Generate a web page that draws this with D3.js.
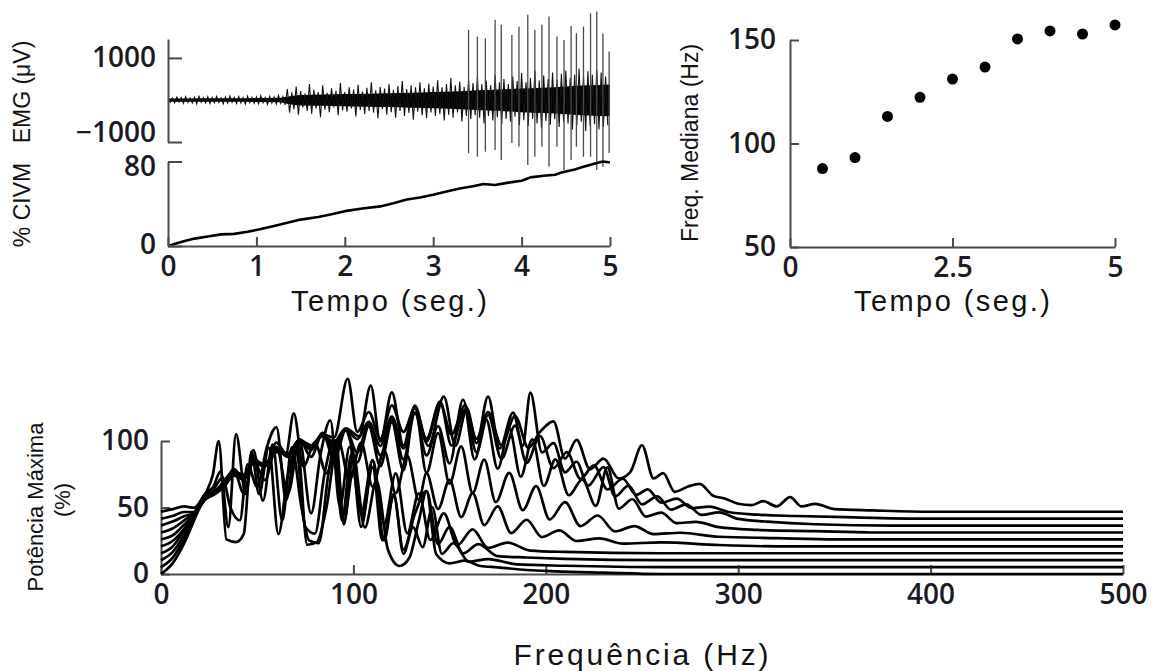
<!DOCTYPE html>
<html>
<head>
<meta charset="utf-8">
<script src="https://cdn.jsdelivr.net/npm/d3@7"></script>
<style>
  html, body { margin: 0; padding: 0; background: #fff; }
  svg { display: block; }
  .tick text { font-family: "Open Sans", sans-serif; font-weight: 600; fill: #1a1a24; }
  .title { font-family: "Liberation Sans", Arial, sans-serif; fill: #111; }
</style>
</head>
<body>
<div id="chart"></div>
<script>
// =====================================
// DATA
// =====================================

// EMG envelope per 0.05 s bin (µV): upper and lower extent
const emgMax = [
  60, 45, 70, 55, 80, 50, 65, 90, 55, 75,
  60, 85, 50, 70, 95, 60, 80, 55, 90, 65,
  75, 100, 60, 85, 70, 110, 80, 260, 180, 320,
  210, 150, 380, 240, 190, 350, 170, 280, 220, 400,
  190, 300, 250, 360, 200, 290, 420, 230, 310, 270,
  380, 240, 330, 450, 260, 350, 300, 420, 280, 390,
  320, 470, 300, 380, 520, 350, 430, 310, 480, 400,
  550, 380, 460, 350, 600, 420, 500, 380, 560, 450,
  640, 420, 520, 700, 460, 580, 500, 650, 480, 620,
  700, 520, 600, 750, 550, 680, 600, 720, 650, 560
];
const emgMin = [
  -55, -70, -50, -80, -60, -75, -95, -55, -70, -85,
  -65, -60, -90, -75, -55, -85, -70, -100, -65, -80,
  -90, -70, -105, -75, -95, -80, -120, -300, -220, -350,
  -180, -260, -330, -200, -410, -230, -290, -180, -360, -250,
  -280, -200, -390, -240, -330, -260, -300, -440, -220, -350,
  -290, -420, -260, -380, -310, -470, -280, -360, -430, -300,
  -380, -330, -490, -350, -420, -300, -510, -380, -450, -360,
  -420, -560, -380, -490, -410, -580, -450, -520, -400, -600,
  -480, -620, -450, -560, -680, -500, -590, -460, -640, -520,
  -560, -700, -600, -520, -740, -620, -580, -700, -640, -600
];

// dense core of the EMG band (µV)
const emgCoreTime = [0, 0.25, 0.5, 0.75, 1.0, 1.25, 1.38, 1.5, 1.75, 2.0, 2.25, 2.5, 2.75,
                     3.0, 3.25, 3.5, 3.75, 4.0, 4.25, 4.5, 4.75, 5.0];
const emgCoreHi = [35, 35, 40, 40, 45, 50, 90, 120, 130, 140, 150, 160, 170,
                   190, 200, 230, 250, 270, 290, 320, 350, 370];
const emgCoreLo = [-40, -40, -45, -45, -50, -55, -100, -130, -140, -150, -160, -170, -185,
                   -200, -215, -240, -260, -290, -310, -340, -370, -390];

// large EMG spikes: time (s), top (µV), bottom (µV)
const spikeTime = [3.40, 3.50, 3.59, 3.70, 3.77, 3.89, 3.97, 4.07, 4.15, 4.23,
                   4.31, 4.40, 4.48, 4.56, 4.62, 4.70, 4.78, 4.85, 4.92, 4.99];
const spikeTop = [1667, 1507, 1468, 1905, 1786, 1548, 1746, 2024, 1667, 1786,
                  1984, 1507, 1429, 1762, 1587, 1746, 2064, 2103, 1587, 1150];
const spikeBottom = [-1262, -1350, -1230, -1190, -1430, -1024, -1111, -1548, -1350, -1111,
                     -1587, -1111, -1667, -1430, -1111, -1350, -1350, -1667, -1587, -1262];

// force (% CIVM)
const civmTime = [0, 0.1, 0.2, 0.3, 0.45, 0.6, 0.75, 0.9, 1.05, 1.2, 1.35, 1.5, 1.7, 1.85,
                  2.0, 2.2, 2.4, 2.55, 2.7, 2.85, 3.0, 3.15, 3.3, 3.45, 3.57, 3.7, 3.85,
                  4.0, 4.1, 4.25, 4.38, 4.45, 4.6, 4.7, 4.8, 4.92, 5.0];
const civmValue = [0, 2.5, 5, 7, 9, 11, 11.5, 13.5, 16, 19, 22, 25, 27.5, 30,
                   33, 35.5, 37.5, 40.5, 44, 46, 48.5, 51.5, 54.5, 56.5, 58.7, 57.8, 60,
                   61.8, 65, 66.5, 67.5, 69.5, 72.5, 75, 77.5, 80, 79];

// median frequency
const medTime = [0.5, 1.0, 1.5, 2.0, 2.5, 3.0, 3.5, 4.0, 4.5, 5.0];
const medFreq = [87.9, 93.2, 113.1, 122.3, 131.1, 136.9, 150.5, 154.4, 152.9, 157.3];

// power spectra (relative %), one per 0.5 s window, stacked with offsets
const spectrumOffsets = [0, 5.2, 10.4, 15.6, 20.8, 26, 31.2, 36.4, 41.6, 46.8];
const spectra = [
  [[0,0],[6,8],[12,23],[18,43],[23,60],[27,75],[30,100],[34,26],[39,24],[43,30],[47,92],[51,60],[56,95],[61,30],[66,75],[71,95],[76,22],[81,24],[86,50],[91,92],[95,40],[100,78],[106,35],[112,70],[118,18],[124,6],[129,12],[134,40],[138,62],[143,15],[150,8],[158,10],[166,6],[175,5],[190,3],[205,2],[230,1],[260,0],[500,0]],
  [[0,0],[6,7],[12,21],[18,40],[23,55],[27,60],[31,72],[35,30],[39,100],[44,55],[48,88],[53,50],[58,92],[63,35],[68,90],[73,45],[77,20],[82,18],[87,70],[91,95],[95,32],[100,85],[105,40],[110,80],[116,20],[121,55],[126,10],[131,30],[136,15],[141,45],[146,10],[152,18],[160,4],[170,6],[185,2],[210,1],[260,0],[500,0]],
  [[0,0],[6,6],[12,19],[18,37],[23,50],[28,55],[32,62],[36,40],[41,30],[45,72],[50,55],[55,85],[60,100],[65,45],[70,85],[75,25],[80,20],[85,65],[90,90],[94,30],[99,80],[104,25],[110,70],[115,15],[121,48],[126,8],[132,35],[138,52],[144,12],[150,25],[157,5],[165,12],[175,3],[190,2],[210,1],[260,0],[500,0]],
  [[0,0],[6,5],[12,17],[18,32],[23,44],[28,46],[33,55],[38,62],[43,45],[48,70],[54,55],[60,80],[66,45],[72,85],[78,30],[83,75],[88,100],[93,35],[98,80],[104,30],[110,70],[116,22],[122,60],[128,15],[134,45],[140,10],[147,30],[154,6],[162,18],[170,4],[180,8],[192,2],[210,1],[260,0],[500,0]],
  [[0,0],[6,4],[12,13],[18,25],[23,36],[28,40],[33,48],[38,58],[43,50],[48,66],[54,60],[60,78],[65,70],[69,100],[74,60],[80,78],[86,55],[92,80],[98,50],[104,78],[110,45],[116,72],[122,40],[128,68],[134,35],[138,55],[144,28],[150,50],[156,22],[162,40],[168,16],[175,30],[182,10],[190,20],[198,7],[207,12],[216,4],[228,6],[240,2],[260,3],[290,1],[320,0],[500,0]],
  [[0,0],[6,3],[12,11],[18,20],[23,30],[28,34],[33,40],[38,48],[43,45],[48,58],[54,55],[60,68],[66,62],[72,75],[78,62],[84,80],[90,60],[96,82],[102,58],[108,85],[114,55],[120,88],[126,52],[132,100],[138,50],[144,80],[150,42],[156,70],[162,35],[168,60],[174,28],[181,50],[188,22],[195,40],[202,15],[210,28],[218,10],[227,18],[236,6],[246,10],[256,4],[270,5],[290,2],[320,1],[350,0],[500,0]],
  [[0,0],[6,3],[12,9],[18,16],[23,25],[28,30],[33,36],[38,44],[43,40],[48,52],[54,50],[60,62],[66,58],[72,70],[78,62],[84,75],[90,62],[96,78],[102,60],[108,82],[114,58],[120,85],[126,55],[132,90],[138,58],[144,80],[150,52],[157,100],[163,55],[169,85],[175,48],[181,78],[187,42],[193,70],[199,35],[205,55],[212,28],[219,40],[226,20],[232,49],[238,18],[245,25],[252,12],[260,15],[268,7],[278,8],[290,4],[310,2],[340,1],[370,0],[500,0]],
  [[0,0],[6,3],[12,7],[18,10],[23,20],[28,26],[33,32],[38,40],[43,38],[48,48],[54,46],[60,56],[66,54],[72,64],[78,58],[84,68],[90,62],[96,72],[102,65],[108,78],[114,60],[120,82],[126,58],[132,85],[139,60],[147,97],[153,60],[159,88],[164,62],[170,97],[176,58],[183,85],[188,60],[192,100],[198,55],[204,62],[210,40],[216,48],[222,30],[230,44],[236,22],[243,30],[250,16],[258,22],[265,12],[273,16],[281,8],[290,10],[300,5],[315,3],[340,1],[380,0],[500,0]],
  [[0,0],[6,2],[12,5],[17,5],[23,15],[28,20],[33,26],[38,34],[43,32],[48,42],[54,40],[60,50],[66,48],[72,58],[78,54],[84,62],[90,58],[96,68],[103,62],[109,100],[114,58],[120,95],[126,55],[132,85],[138,58],[145,88],[151,55],[158,82],[164,50],[170,78],[177,45],[184,70],[190,42],[197,62],[204,38],[211,50],[218,30],[225,40],[232,22],[240,30],[247,18],[253,22],[260,12],[268,15],[276,8],[285,9],[295,5],[310,3],[330,2],[360,1],[400,0],[500,0]],
  [[0,0],[6,2],[12,4],[17,3],[23,12],[28,16],[33,22],[38,30],[43,28],[48,38],[54,36],[60,46],[66,44],[72,54],[78,50],[84,58],[90,56],[97,100],[102,60],[108,75],[114,55],[120,80],[126,60],[132,78],[138,55],[145,82],[151,58],[158,80],[164,55],[170,75],[177,50],[184,72],[191,48],[197,60],[204,68],[210,40],[216,54],[223,32],[230,40],[238,25],[244,30],[250,50],[256,25],[261,29],[267,15],[274,19],[280,21],[287,12],[293,10],[300,6],[307,5],[313,8],[320,4],[327,11],[333,4],[340,6],[350,2],[370,1],[400,0],[500,0]]
];

// tick values
const emgTicks = [-1000, 1000];
const civmTicks = [0, 80];
const timeTicks = [0, 1, 2, 3, 4, 5];
const medFreqTicks = [50, 100, 150];
const medTimeTicks = [0, 2.5, 5];
const powerTicks = [0, 50, 100];
const freqTicks = [0, 100, 200, 300, 400, 500];

// =====================================
// SVG
// =====================================

const width = 1157;
const height = 671;

const svg = d3.select("#chart")
  .append("svg")
  .attr("width", width)
  .attr("height", height);

const axisColor = "#4a4a4a";
const tickFont = "28px";
const plain = d => String(d);

function styleAxis(g) {
  g.selectAll("path.domain").attr("stroke", axisColor).attr("stroke-width", 2);
  g.selectAll(".tick line").attr("stroke", axisColor).attr("stroke-width", 2);
  g.selectAll(".tick text").style("font-size", tickFont);
}

function vTitle(x, y, txt, size) {
  svg.append("text")
    .attr("class", "title")
    .attr("transform", `translate(${x},${y}) rotate(-90)`)
    .attr("text-anchor", "middle")
    .attr("dominant-baseline", "central")
    .style("font-size", size)
    .text(txt);
}

function hTitle(x, y, txt, size, len) {
  svg.append("text")
    .attr("class", "title")
    .attr("x", x)
    .attr("y", y)
    .attr("text-anchor", "middle")
    .attr("textLength", len)
    .attr("lengthAdjust", "spacing")
    .style("font-size", size)
    .text(txt);
}

// =====================================
// PANEL A: EMG + % CIVM
// =====================================

const xT = d3.scaleLinear().domain([0, 5]).range([168, 610]);
const yEmg = d3.scaleLinear().domain([-1000, 1450]).range([142, 39]);
const yCivm = d3.scaleLinear().domain([0, 80]).range([246, 161.5]);

// dense core band
svg.append("path")
  .datum(emgCoreTime.map((t, i) => [t, emgCoreHi[i], emgCoreLo[i]]))
  .attr("fill", "#000")
  .attr("d", d3.area()
    .curve(d3.curveMonotoneX)
    .x(d => xT(d[0]))
    .y0(d => yEmg(d[2]))
    .y1(d => yEmg(d[1])));

// EMG trace: zigzag between bin extents
const emgPts = [];
emgMax.forEach((v, i) => {
  emgPts.push([i * 0.05, v]);
  emgPts.push([i * 0.05 + 0.025, emgMin[i]]);
});

svg.append("path")
  .datum(emgPts)
  .attr("fill", "none")
  .attr("stroke", "#111")
  .attr("stroke-width", 1.1)
  .attr("d", d3.line().x(d => xT(d[0])).y(d => yEmg(d[1])));

svg.append("g")
  .selectAll("line")
  .data(spikeTime)
  .enter()
  .append("line")
  .attr("x1", d => xT(d))
  .attr("x2", d => xT(d))
  .attr("y1", (d, i) => yEmg(spikeTop[i]))
  .attr("y2", (d, i) => yEmg(spikeBottom[i]))
  .attr("stroke", "#4a4a4a")
  .attr("stroke-width", 1.3);

// force line
svg.append("path")
  .datum(civmTime.map((t, i) => [t, civmValue[i]]))
  .attr("fill", "none")
  .attr("stroke", "#000")
  .attr("stroke-width", 2.6)
  .attr("stroke-linejoin", "round")
  .attr("d", d3.line().x(d => xT(d[0])).y(d => yCivm(d[1])));

const emgAxis = svg.append("g")
  .attr("transform", `translate(${xT(0)},0)`)
  .call(d3.axisLeft(yEmg).tickValues(emgTicks).tickSize(-14).tickSizeOuter(0).tickPadding(12)
    .tickFormat(d => d < 0 ? "\u2212" + Math.abs(d) : plain(d)))
  .call(styleAxis);
emgAxis.selectAll(".tick text").attr("dy", d => d < 0 ? "-0.02em" : "0.32em");

const civmAxis = svg.append("g")
  .attr("transform", `translate(${xT(0)},0)`)
  .call(d3.axisLeft(yCivm).tickValues(civmTicks).tickSize(-14).tickSizeOuter(0).tickPadding(12)
    .tickFormat(plain))
  .call(styleAxis);
civmAxis.selectAll(".tick text").attr("dy", d => d > 0 ? "0.5em" : "0.28em");

svg.append("g")
  .attr("transform", `translate(0,${yCivm(0)})`)
  .call(d3.axisBottom(xT).tickValues(timeTicks).tickSize(-9).tickSizeOuter(0).tickPadding(10)
    .tickFormat(plain))
  .call(styleAxis);

vTitle(22, 92, "EMG (\u03bcV)", "23px");
vTitle(22, 205, "% CIVM", "23px");
hTitle(389, 311, "Tempo (seg.)", "29px", 196);

// =====================================
// PANEL B: MEDIAN FREQUENCY
// =====================================

const xM = d3.scaleLinear().domain([0, 5]).range([790, 1115]);
const yM = d3.scaleLinear().domain([50, 150]).range([247, 40]);

svg.append("g")
  .attr("transform", `translate(${xM(0)},0)`)
  .call(d3.axisLeft(yM).tickValues(medFreqTicks).tickSize(-9).tickSizeOuter(0).tickPadding(14)
    .tickFormat(plain))
  .call(styleAxis);

svg.append("g")
  .attr("transform", `translate(0,${yM(50)})`)
  .call(d3.axisBottom(xM).tickValues(medTimeTicks).tickSize(-9).tickSizeOuter(0).tickPadding(10)
    .tickFormat(plain))
  .call(styleAxis);

svg.append("g")
  .selectAll("circle")
  .data(medTime)
  .enter()
  .append("circle")
  .attr("cx", d => xM(d))
  .attr("cy", (d, i) => yM(medFreq[i]))
  .attr("r", 5.5)
  .attr("fill", "#000");

vTitle(690, 143, "Freq. Mediana (Hz)", "23px");
hTitle(952, 311, "Tempo (seg.)", "29px", 196);

// =====================================
// PANEL C: POWER SPECTRA
// =====================================

const xF = d3.scaleLinear().domain([0, 500]).range([161, 1123]);
const yP = d3.scaleLinear().domain([0, 100]).range([574, 441]);

svg.append("g")
  .attr("transform", `translate(${xF(0)},0)`)
  .call(d3.axisLeft(yP).tickValues(powerTicks).tickSize(-9).tickSizeOuter(0).tickPadding(12)
    .tickFormat(plain))
  .call(styleAxis);

svg.append("g")
  .attr("transform", `translate(0,${yP(0)})`)
  .call(d3.axisBottom(xF).tickValues(freqTicks).tickSize(-9).tickSizeOuter(0).tickPadding(10)
    .tickFormat(plain))
  .call(styleAxis);

const specLine = d3.line()
  .curve(d3.curveMonotoneX)
  .x(d => xF(d[0]))
  .y(d => yP(d[1]));

svg.append("g")
  .selectAll("path")
  .data(spectra)
  .enter()
  .append("path")
  .attr("fill", "none")
  .attr("stroke", "#000")
  .attr("stroke-width", 2.7)
  .attr("stroke-linejoin", "round")
  .attr("d", (s, i) => specLine(s.map(p => [p[0], p[1] + spectrumOffsets[i]])));

vTitle(35, 507, "Pot\u00eancia M\u00e1xima", "22px");
vTitle(62, 500, "(%)", "22px");
hTitle(641, 665, "Frequ\u00eancia (Hz)", "30px", 255);
</script>
</body>
</html>
